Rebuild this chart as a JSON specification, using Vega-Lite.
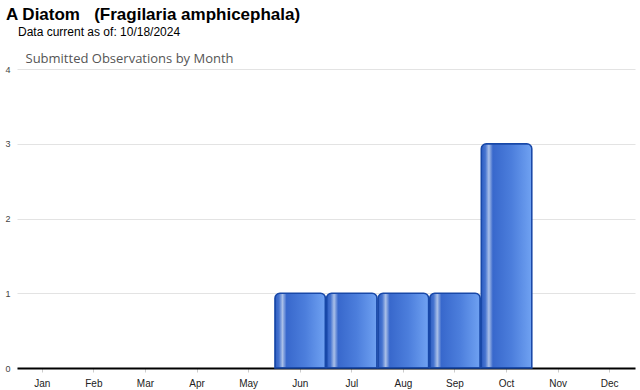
{
  "$schema": "https://vega.github.io/schema/vega-lite/v6.json",
  "autosize": "none",
  "width": 618,
  "height": 299,
  "padding": {"left": 17, "top": 69, "right": 5, "bottom": 22},
  "background": "white",
  "title": {
    "text": "A Diatom\u00a0\u00a0\u00a0(Fragilaria amphicephala)",
    "subtitle": "\u200b\u2002\u2002Data current as of: 10/18/2024",
    "anchor": "start",
    "frame": "group",
    "dx": -11,
    "font": "Arial",
    "fontSize": 17,
    "fontWeight": "bold",
    "color": "#000000",
    "subtitleFont": "Arial",
    "subtitleFontSize": 12,
    "subtitleColor": "#000000",
    "subtitlePadding": 3,
    "offset": 13
  },
  "data": {
    "values": [
      {"month": "Jan", "count": 0},
      {"month": "Feb", "count": 0},
      {"month": "Mar", "count": 0},
      {"month": "Apr", "count": 0},
      {"month": "May", "count": 0},
      {"month": "Jun", "count": 1},
      {"month": "Jul", "count": 1},
      {"month": "Aug", "count": 1},
      {"month": "Sep", "count": 1},
      {"month": "Oct", "count": 3},
      {"month": "Nov", "count": 0},
      {"month": "Dec", "count": 0}
    ]
  },
  "transform": [{"filter": "datum.count > 0"}],
  "mark": {
    "type": "bar",
    "cornerRadiusTopLeft": 5,
    "cornerRadiusTopRight": 5,
    "stroke": "#1848a8",
    "strokeWidth": 1.5,
    "color": {
      "gradient": "linear",
      "x1": 0, "x2": 1, "y1": 0, "y2": 0,
      "stops": [
        {"offset": 0, "color": "#2c5cc0"},
        {"offset": 0.08, "color": "#4674d0"},
        {"offset": 0.15, "color": "#aac0e8"},
        {"offset": 0.23, "color": "#3868cc"},
        {"offset": 0.6, "color": "#4c7edc"},
        {"offset": 1, "color": "#70a2f2"}
      ]
    }
  },
  "encoding": {
    "x": {
      "field": "month",
      "type": "ordinal",
      "sort": null,
      "scale": {
        "domain": ["Jan", "Feb", "Mar", "Apr", "May", "Jun", "Jul", "Aug", "Sep", "Oct", "Nov", "Dec"],
        "paddingInner": 0.02,
        "paddingOuter": 0
      },
      "axis": {
        "title": null,
        "labelAngle": 0,
        "labelFont": "Arial",
        "labelFontSize": 10,
        "labelColor": "#222222",
        "labelPadding": 6,
        "domainColor": "#000000",
        "domainWidth": 2,
        "tickColor": "#cccccc",
        "tickSize": 4,
        "grid": false
      }
    },
    "y": {
      "field": "count",
      "type": "quantitative",
      "scale": {"domain": [0, 4]},
      "axis": {
        "title": "Submitted Observations by Month",
        "titleAngle": 0,
        "titleAlign": "left",
        "titleBaseline": "alphabetic",
        "titleX": 8,
        "titleY": -7,
        "titleFont": "Open Sans",
        "titleFontSize": 13,
        "titleFontWeight": "normal",
        "titleColor": "#555555",
        "values": [0, 1, 2, 3, 4],
        "format": "d",
        "labelFont": "Arial",
        "labelFontSize": 9,
        "labelColor": "#444444",
        "labelPadding": 7,
        "labelOverlap": false,
        "ticks": false,
        "domain": false,
        "grid": true,
        "gridColor": "#e3e3e3",
        "gridWidth": 1
      }
    }
  },
  "config": {
    "view": {"stroke": null}
  }
}
